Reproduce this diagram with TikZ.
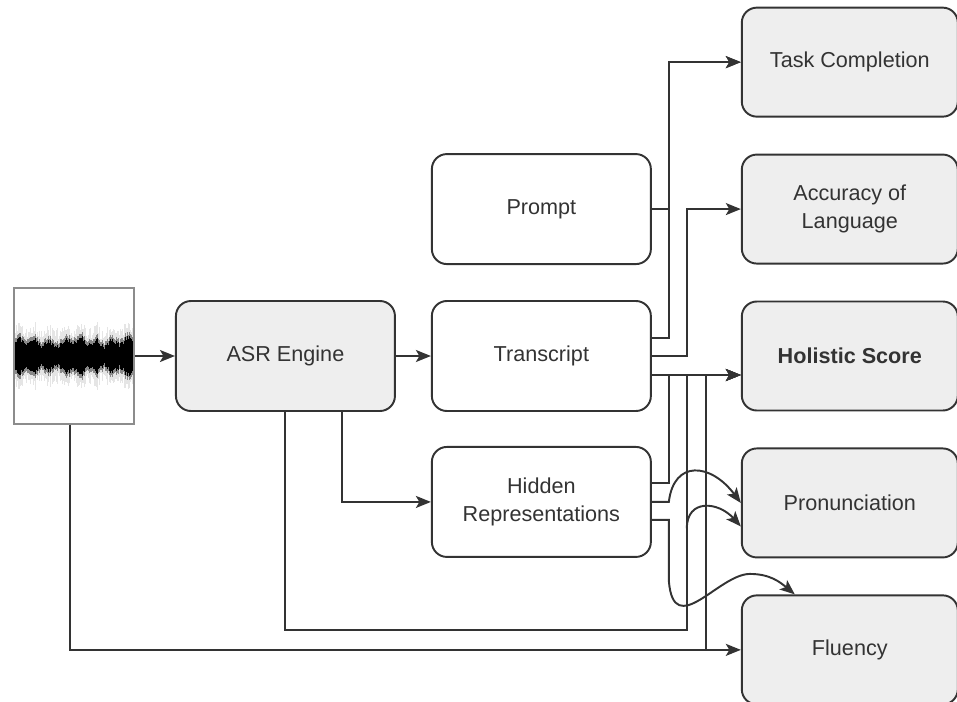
\documentclass[tikz,border=0pt]{standalone}
\usepackage{fontspec}
\setmainfont{Liberation Sans}
\usetikzlibrary{positioning,calc,arrows.meta}
\definecolor{boxgray}{HTML}{EEEEEE}
\definecolor{edge}{HTML}{333333}
\tikzset{block/.style={draw=edge,line width=1.1pt,rounded corners=0.3cm,minimum width=4.38cm,minimum height=2.2cm,align=center,text=edge,font=\fontsize{12.3}{16}\selectfont},
         score/.style={block,fill=boxgray,minimum width=4.32cm,minimum height=2.18cm},
         line/.style={-{Stealth[length=0.3cm,width=0.24cm,inset=0.07cm]},draw=edge,line width=1.1pt}
     }

\begin{document}
\begin{tikzpicture}
\node[draw=black!45,line width=1.1pt,minimum width=2.4cm,minimum height=2.72cm](wave) at (0,0) {};
\useasboundingbox ([xshift=-1.48cm,yshift=7.12cm]wave.center) rectangle ([xshift=17.66cm,yshift=-6.9cm]wave.center);
\node[block,fill=boxgray,right=0.8cm of wave](asr) {ASR Engine};
\node[block,right=0.7cm of asr](trans) {Transcript};
\node[block,above=0.7cm of trans](prompt) {Prompt};
\node[block,below=0.68cm of trans](hidden) {Hidden\\Representations};
\node[score,right=1.78cm of trans](holistic) {\textbf{Holistic Score}};
\node[score,above=0.72cm of holistic](acc) {Accuracy of\\Language};
\node[score,above=0.72cm of acc](task) {Task Completion};
\node[score,below=0.72cm of holistic](pron) {Pronunciation};
\node[score,below=0.72cm of pron](fluency) {Fluency};
% waveform
\begin{scope}
\clip (wave.north west) rectangle (wave.south east);
\pgfmathsetseed{42}
\foreach \k in {1,...,118}{
  \pgfmathsetmacro\amp{0.22+0.06*sin(\k*23)+0.04*sin(\k*7)+0.1*rnd}
  \pgfmathsetmacro\fuzz{0.12+0.22*rnd}
  \coordinate (s) at ([xshift=(\k-59.5)*0.02cm]wave.center);
  \fill[black,opacity=0.1] ($(s)+(-0.011,-\amp-\fuzz)$) rectangle ($(s)+(0.011,\amp+\fuzz)$);
  \fill[black,opacity=0.4] ($(s)+(-0.011,-\amp-0.08)$) rectangle ($(s)+(0.011,\amp+0.08)$);
  \fill ($(s)+(-0.011,-\amp)$) rectangle ($(s)+(0.011,\amp)$);
}
\end{scope}
% lanes
\coordinate (c1) at ([xshift=0.34cm]trans.east);
\coordinate (c2) at ([xshift=0.7cm]trans.east);
\coordinate (c3) at ([xshift=1.08cm]trans.east);
\coordinate (hs) at ([yshift=-0.38cm]holistic.west);
\coordinate (c1h) at (c1 |- hidden.east);
\coordinate (c2h) at (c2 |- hidden.east);
\draw[line] (wave)--(asr);
\draw[line] (asr)--(trans);
\draw[line] ([xshift=1.13cm]asr.south) |- (hidden);
\draw[line] (prompt.east) -- ++(0.34,0) |- (task);
\draw[line] ([yshift=0.36cm]trans.east) -- ++(0.34,0) |- (task);
\draw[line] (trans.east) -- ++(0.7,0) |- (acc);
\draw[line] ([yshift=-0.38cm]trans.east)--(hs);
\draw[line] ([yshift=0.37cm]hidden.east) -- ++(0.34,0) |- (hs);
\draw[line] (asr.south) -- ++(0,-4.36) -| (c2 |- hs)--(hs);
\draw[line] ([xshift=-0.08cm]wave.south) |- (fluency);
\draw[line] ([xshift=-0.08cm]wave.south) |- (c3 |- fluency)--(c3 |- hs)--(hs);
\draw[line] (hidden.east)--(c1h) .. controls +(0.1,0.85) and +(-0.6,0.8) .. (pron.west);
\draw[line] ([yshift=-0.53cm]c2h) .. controls +(0,0.6) and +(-0.45,0.5) .. ([yshift=-0.47cm]pron.west);
\draw[line] ([yshift=-0.36cm]hidden.east)--([yshift=-0.36cm]c1h) -- ++(0,-1.22) .. controls +(0.1,-1.2) and +(-0.62,0) .. ++(1.62,0.14) .. controls +(0.4,0) and +(-0.3,0.25) .. ([xshift=-1.1cm]fluency.north);
\end{tikzpicture}
\end{document}
